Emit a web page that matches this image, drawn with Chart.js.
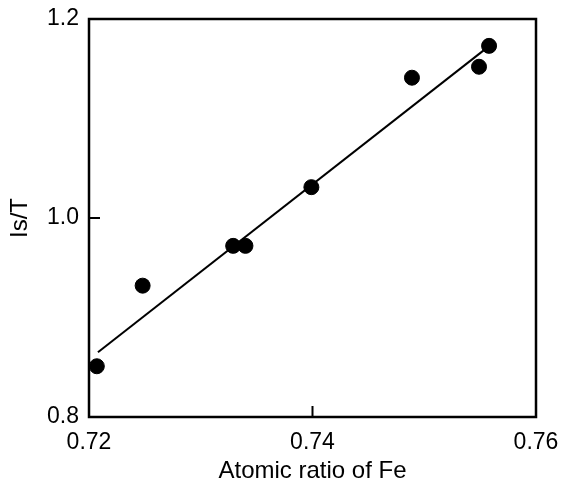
<!DOCTYPE html>
<html>
<head>
<meta charset="utf-8">
<script src="https://cdn.jsdelivr.net/npm/chart.js@4/dist/chart.umd.min.js"></script>
<style>
  html, body { margin: 0; padding: 0; background: #fff; }
  #wrap { width: 562px; height: 486px; }
</style>
</head>
<body>
<div id="wrap"><canvas id="c" width="562" height="486"></canvas></div>
<script>
// measured points (atomic ratio of Fe vs Is/T)
const feRatio = [0.7207, 0.7248, 0.7329, 0.7340, 0.7399, 0.7489, 0.7549, 0.7558];
const isOverT = [0.851, 0.932, 0.972, 0.972, 1.031, 1.141, 1.152, 1.173];

// fitted line end points
const fitX = [0.7208, 0.7556];
const fitY = [0.865, 1.171];

const xTicks = [0.72, 0.74, 0.76];
const yTicks = [0.8, 1.0, 1.2];

const font = { family: '"Liberation Sans", Arial, sans-serif', size: 23 };
const titleFont = { family: '"Liberation Sans", Arial, sans-serif', size: 24 };

// frame around plot area + inward tick marks
const framePlugin = {
  id: 'frame',
  afterDraw(chart) {
    const { ctx, chartArea: a, scales } = chart;
    ctx.save();
    ctx.strokeStyle = '#000';
    ctx.lineWidth = 2.5;
    ctx.strokeRect(a.left, a.top, a.right - a.left, a.bottom - a.top);
    ctx.lineWidth = 2;
    ctx.beginPath();
    xTicks.forEach(v => {
      const px = scales.x.getPixelForValue(v);
      ctx.moveTo(px, a.bottom);
      ctx.lineTo(px, a.bottom - 11);
    });
    yTicks.forEach(v => {
      const py = scales.y.getPixelForValue(v);
      ctx.moveTo(a.left, py);
      ctx.lineTo(a.left + 11, py);
    });
    ctx.stroke();
    ctx.restore();
  }
};

new Chart(document.getElementById('c'), {
  data: {
    datasets: [
      {
        type: 'scatter',
        data: feRatio.map((x, i) => ({ x, y: isOverT[i] })),
        backgroundColor: '#000',
        borderColor: '#000',
        pointRadius: 7.5,
        pointHoverRadius: 7.5
      },
      {
        type: 'line',
        data: fitX.map((x, i) => ({ x, y: fitY[i] })),
        borderColor: '#000',
        borderWidth: 2,
        pointRadius: 0,
        fill: false
      }
    ]
  },
  options: {
    responsive: false,
    animation: false,
    layout: { padding: { top: 19, right: 26, left: 0, bottom: 0 } },
    plugins: { legend: { display: false }, tooltip: { enabled: false } },
    scales: {
      x: {
        type: 'linear',
        min: 0.72, max: 0.76,
        afterBuildTicks: s => { s.ticks = xTicks.map(v => ({ value: v })); },
        afterFit: s => { s.height = 69; s.paddingLeft = 0; s.paddingRight = 0; },
        ticks: {
          color: '#000', font, padding: 12, maxRotation: 0,
          callback: v => v.toFixed(2)
        },
        grid: { display: false, drawTicks: false },
        border: { display: false },
        title: { display: true, text: 'Atomic ratio of Fe', color: '#000', font: titleFont, padding: { top: 4, bottom: 0 } }
      },
      y: {
        type: 'linear',
        min: 0.8, max: 1.2,
        afterBuildTicks: s => { s.ticks = yTicks.map(v => ({ value: v })); },
        afterFit: s => { s.width = 89; s.paddingTop = 0; s.paddingBottom = 0; },
        ticks: {
          color: '#000', font, padding: 10,
          callback: v => v.toFixed(1)
        },
        grid: { display: false, drawTicks: false },
        border: { display: false },
        title: { display: true, text: 'Is/T', color: '#000', font: titleFont, padding: { top: 6, bottom: 6 } }
      }
    }
  },
  plugins: [framePlugin]
});
</script>
</body>
</html>
